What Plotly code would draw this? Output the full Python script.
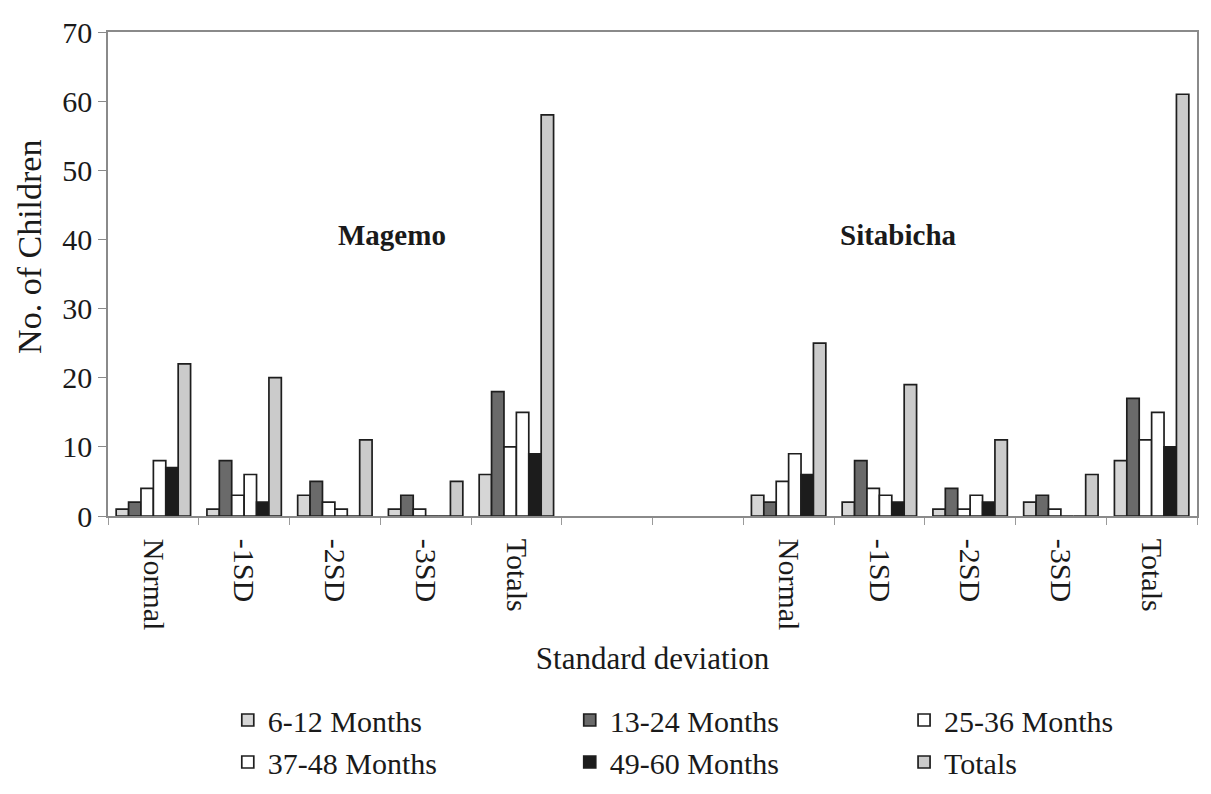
import plotly.graph_objects as go

sd_labels = ["Normal", "-1SD", "-2SD", "-3SD", "Totals"]
sites = ["Magemo", "Sitabicha"]
age_groups = ["6-12 Months", "13-24 Months", "25-36 Months", "37-48 Months", "49-60 Months", "Totals"]

# values per age group, in order of sd_labels
magemo = {
    "6-12 Months":  [1, 1, 3, 1, 6],
    "13-24 Months": [2, 8, 5, 3, 18],
    "25-36 Months": [4, 3, 2, 1, 10],
    "37-48 Months": [8, 6, 1, 0, 15],
    "49-60 Months": [7, 2, 0, 0, 9],
    "Totals":       [22, 20, 11, 5, 58],
}
sitabicha = {
    "6-12 Months":  [3, 2, 1, 2, 8],
    "13-24 Months": [2, 8, 4, 3, 17],
    "25-36 Months": [5, 4, 1, 1, 11],
    "37-48 Months": [9, 3, 3, 0, 15],
    "49-60 Months": [6, 2, 2, 0, 10],
    "Totals":       [25, 19, 11, 6, 61],
}
y_ticks = [0, 10, 20, 30, 40, 50, 60, 70]

colors = ["#d6d6d6", "#6a6a6a", "#ffffff", "#ffffff", "#1c1c1c", "#cbcbcb"]
FONT = "Liberation Serif"
TXT = "#1a1a1a"

n = len(sd_labels)
gap = 2
x_mag = list(range(n))
x_sit = [i + n + gap for i in range(n)]
x_all = x_mag + x_sit
total_cats = n * 2 + gap

legend_ids = ["legend", "legend2", "legend3"]

fig = go.Figure()
for i, (g, c) in enumerate(zip(age_groups, colors)):
    fig.add_trace(go.Bar(
        x=x_all,
        y=magemo[g] + sitabicha[g],
        name=g,
        legend=legend_ids[i % 3],
        legendgroup=g,
        marker=dict(color=c, line=dict(color="#1e1e1e", width=1.7)),
    ))

boundaries = [i - 0.5 for i in range(total_cats + 1)]

leg_common = dict(
    orientation="v", yref="container", y=0.136, yanchor="top", xanchor="left",
    font=dict(family=FONT, size=30, color=TXT),
    traceorder="normal", tracegroupgap=8, bgcolor="rgba(0,0,0,0)",
)

fig.update_layout(
    width=1211, height=794,
    margin=dict(l=100, r=22, t=24, b=286),
    paper_bgcolor="white", plot_bgcolor="white",
    barmode="group", bargap=0.18, bargroupgap=0,
    font=dict(family=FONT, color=TXT, size=30),
    showlegend=True,
    legend=dict(x=0.110, **leg_common),
    legend2=dict(x=0.424, **leg_common),
    legend3=dict(x=0.731, **leg_common),
    xaxis=dict(
        range=[-0.5, total_cats - 0.5], automargin=False,
        tickmode="array", tickvals=x_all, ticktext=sd_labels + sd_labels,
        tickangle=90, ticks="outside", ticklen=15, tickcolor="rgba(0,0,0,0)",
        showgrid=False, zeroline=False,
        showline=True, linecolor="#8a8a8a", linewidth=1.5, mirror=True,
        tickfont=dict(family=FONT, size=30, color=TXT),
        minor=dict(tickvals=boundaries, ticks="outside", ticklen=7,
                   tickcolor="#9a9a9a", tickwidth=1, showgrid=False),
        title=dict(text="Standard deviation", font=dict(family=FONT, size=31, color=TXT), standoff=18),
    ),
    yaxis=dict(
        range=[0, 70], tickmode="array", tickvals=y_ticks, automargin=False,
        ticks="outside", ticklen=8, tickcolor="#8a8a8a",
        showgrid=False, zeroline=False,
        showline=True, linecolor="#8a8a8a", linewidth=1.5, mirror=True,
        tickfont=dict(family=FONT, size=30, color=TXT),
    ),
)

fig.add_annotation(text="No. of Children", textangle=-90, xref="paper", yref="paper",
                   x=-0.0716, y=0.556, xanchor="center", yanchor="middle", showarrow=False,
                   font=dict(family=FONT, size=34, color=TXT))
fig.add_annotation(text="<b>Magemo</b>", xref="x", yref="y", x=2.63, y=40.6, showarrow=False,
                   font=dict(family=FONT, size=29, color=TXT))
fig.add_annotation(text="<b>Sitabicha</b>", xref="x", yref="y", x=8.21, y=40.6, showarrow=False,
                   font=dict(family=FONT, size=29, color=TXT))

fig.write_html("out.html")
